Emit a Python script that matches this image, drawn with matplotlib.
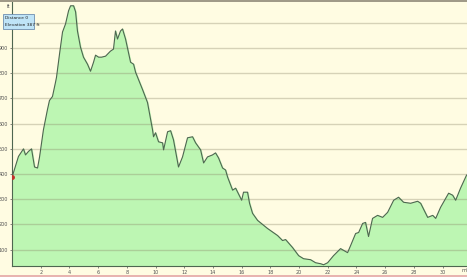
import matplotlib
matplotlib.use("Agg")
from matplotlib import pyplot as plt
from matplotlib.patches import Rectangle

# elevation profile (miles, feet)
distance = [0.0, 0.45, 0.80, 0.94, 1.15, 1.36, 1.43, 1.57, 1.78, 1.92,
            2.19, 2.47, 2.61, 2.82, 3.03, 3.10, 3.31, 3.52, 3.73, 3.94,
            4.08, 4.29, 4.43, 4.56, 4.77, 4.98, 5.26, 5.47, 5.68, 5.82,
            6.03, 6.24, 6.52, 6.86, 7.07, 7.21, 7.35, 7.56, 7.70, 7.91,
            8.26, 8.47, 8.61, 9.09, 9.44, 9.79, 9.86, 10.00, 10.21, 10.49,
            10.56, 10.84, 11.05, 11.25, 11.60, 11.88, 12.23, 12.58, 12.79, 13.14,
            13.35, 13.62, 13.97, 14.18, 14.39, 14.67, 14.88, 15.02, 15.37, 15.58,
            15.72, 16.00, 16.13, 16.41, 16.55, 16.76, 17.11, 17.80, 18.50, 18.85,
            19.06, 19.55, 19.97, 20.31, 20.80, 21.15, 21.50, 21.71, 21.99, 22.40,
            22.89, 23.38, 23.59, 23.94, 24.15, 24.43, 24.63, 24.84, 25.12, 25.47,
            25.82, 26.17, 26.59, 26.93, 27.28, 27.77, 28.26, 28.47, 28.96, 29.31,
            29.52, 29.86, 30.42, 30.70, 30.91, 31.25, 31.67]
elevation = [387, 470, 500, 476, 490, 500, 476, 428, 424, 468,
             576, 656, 692, 708, 764, 784, 876, 964, 996, 1048,
             1068, 1068, 1044, 968, 904, 864, 836, 808, 844, 872,
             864, 864, 868, 888, 896, 968, 936, 968, 976, 936,
             844, 836, 804, 736, 684, 576, 548, 564, 528, 524,
             496, 568, 572, 536, 428, 468, 544, 548, 524, 496,
             444, 468, 476, 484, 464, 424, 416, 388, 336, 344,
             328, 296, 328, 328, 284, 244, 216, 184, 156, 136,
             140, 108, 76, 64, 60, 48, 44, 40, 48, 76,
             104, 88, 116, 164, 168, 204, 208, 152, 224, 236,
             228, 248, 296, 308, 288, 284, 292, 284, 228, 236,
             224, 268, 324, 316, 296, 344, 396]
x_ticks = [2, 4, 6, 8, 10, 12, 14, 16, 18, 20, 22, 24, 26, 28, 30]
y_ticks = [100, 200, 300, 400, 500, 600, 700, 800, 900, 1000]
# the 1000 label sits under the info box in the original
y_labels = ['100', '200', '300', '400', '500', '600', '700', '800', '900', '']

bg = '#FFFCE2'
fig = plt.figure(figsize=(4.67, 2.77), dpi=100, facecolor=bg)
ax = fig.add_axes([12 / 467, 11 / 277, 455 / 467, 264 / 277])
ax.set_facecolor(bg)

ax.fill_between(distance, elevation, 0, color='#BDF6B3', zorder=2)
ax.plot(distance, elevation, color='#4E6650', lw=0.8, zorder=4)
ax.plot(distance[0], elevation[0], 'o', color='#C0302A', ms=2.5, zorder=5)

ax.set_xlim(0, 31.7)
ax.set_ylim(35, 1083)
ax.set_yticks(y_ticks)
ax.set_xticks(x_ticks)
ax.set_xticklabels([str(t) for t in x_ticks])
ax.set_yticklabels(y_labels)
ax.tick_params(axis='both', labelsize=3.5, colors='#555555', length=1.5, width=0.5, pad=1.5)
for t in y_ticks:
    ax.axhline(t, color='#8A8468', alpha=0.35, lw=1.0, zorder=3)
for s in ['top', 'right']:
    ax.spines[s].set_visible(False)
for s in ['left', 'bottom']:
    ax.spines[s].set_color('#4E6650')
    ax.spines[s].set_linewidth(0.8)

# units
fig.text(9 / 467, 1 - 7 / 277, 'ft', fontsize=3.5, color='#555555', ha='center', va='center')
fig.text(465 / 467, 1 - 271 / 277, 'mi', fontsize=3.5, color='#555555', ha='center', va='center')

# info box
fig.add_artist(Rectangle((3 / 467, 1 - 29 / 277), 31 / 467, 15 / 277, transform=fig.transFigure,
                         facecolor='#BFE4F7', edgecolor='#6F8FB0', lw=0.6, zorder=10))
fig.text(5 / 467, 1 - 18 / 277, 'Distance 0', fontsize=3.2, color='#222222', va='center', zorder=11)
fig.text(5 / 467, 1 - 25 / 277, 'Elevation 387 ft', fontsize=3.2, color='#222222', va='center', zorder=11)

# frame lines of the window
fig.add_artist(Rectangle((0, 1 - 1.5 / 277), 1, 1.5 / 277, transform=fig.transFigure,
                         facecolor='#A09A88', edgecolor='none'))
fig.add_artist(Rectangle((0, 0), 1, 2 / 277, transform=fig.transFigure,
                         facecolor='#E8B4B0', edgecolor='none'))

plt.savefig('out.png', dpi=100, facecolor=bg)
